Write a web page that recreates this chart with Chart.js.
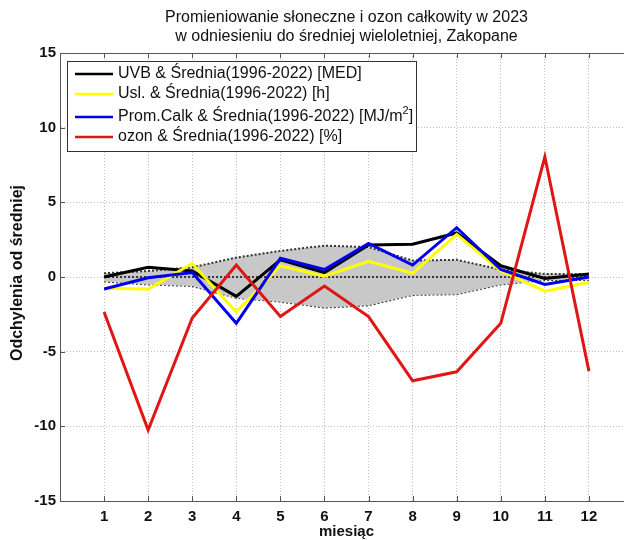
<!DOCTYPE html>
<html>
<head>
<meta charset="utf-8">
<script src="https://cdn.jsdelivr.net/npm/chart.js@4.4.1/dist/chart.umd.min.js"></script>
<style>
  html, body { margin: 0; padding: 0; background: #fff; overflow: hidden; }
  #wrap { width: 650px; height: 540px; }
</style>
</head>
<body>
<div id="wrap"><canvas id="chart" width="650" height="540"></canvas></div>
<script>
// values
var months = [1, 2, 3, 4, 5, 6, 7, 8, 9, 10, 11, 12];
var uvb = [0.0, 0.65, 0.4, -1.3, 1.15, 0.3, 2.15, 2.2, 2.95, 0.75, -0.1, 0.2];
var usl = [-0.75, -0.8, 0.9, -2.35, 0.75, 0.05, 1.05, 0.25, 2.85, 0.4, -0.95, -0.35];
var prom = [-0.8, -0.05, 0.3, -3.1, 1.25, 0.5, 2.25, 0.8, 3.3, 0.5, -0.5, 0.0];
var ozon = [-2.35, -10.25, -2.75, 0.8, -2.65, -0.6, -2.65, -6.95, -6.35, -3.1, 8.05, -6.3];
var bandUpper = [0.25, 0.4, 0.65, 1.3, 1.75, 2.1, 2.0, 1.1, 1.15, 0.5, 0.2, 0.2];
var bandLower = [-0.3, -0.5, -0.6, -1.4, -1.65, -2.05, -1.9, -1.2, -1.15, -0.5, -0.2, -0.2];
var meanLine = [0, 0, 0, 0, 0, 0, 0, 0, 0, 0, 0, 0];

var titleLines = ['Promieniowanie słoneczne i ozon całkowity w 2023',
                  'w odniesieniu do średniej wieloletniej, Zakopane'];
var xTitle = 'miesiąc';
var yTitle = 'Odchylenia od średniej';

function pts(values) {
    return months.map(function(m, i) { return { x: m, y: values[i] }; });
}

var FONT = '"Liberation Sans", Arial, sans-serif';

function lineSet(label, values, color, order) {
    return {
        label: label, data: pts(values), borderColor: color, borderWidth: 3,
        pointRadius: 0, fill: false, tension: 0, order: order, inLegend: true
    };
}

var datasets = [
    lineSet('UVB & Średnia(1996-2022) [MED]', uvb, '#000000', 4),
    lineSet('Usl. & Średnia(1996-2022) [h]', usl, '#ffff00', 3),
    lineSet('Prom.Calk & Średnia(1996-2022) [MJ/m²]', prom, '#0000ee', 2),
    lineSet('ozon & Średnia(1996-2022) [%]', ozon, '#e01515', 1),
    {
        label: 'band upper', data: pts(bandUpper), borderColor: '#333', borderWidth: 2,
        borderDash: [2, 2], backgroundColor: '#c8c8c8', fill: '+1', pointRadius: 0, order: 6
    },
    {
        label: 'band lower', data: pts(bandLower), borderColor: '#333', borderWidth: 2,
        borderDash: [2, 2], fill: false, pointRadius: 0, order: 6
    },
    {
        label: 'mean', data: pts(meanLine), borderColor: '#333', borderWidth: 2,
        borderDash: [2, 2], fill: false, pointRadius: 0, order: 5
    }
];

// title, axis labels, top border, inner tick marks and the boxed legend
var decor = {
    id: 'decor',
    afterDraw: function(chart) {
        var ctx = chart.ctx, a = chart.chartArea;
        var xs = chart.scales.x, ys = chart.scales.y;
        ctx.save();
        ctx.fillStyle = '#111';
        ctx.textAlign = 'center';
        ctx.textBaseline = 'middle';
        ctx.font = '16px ' + FONT;
        ctx.fillText(titleLines[0], (a.left + a.right) / 2, 18);
        ctx.fillText(titleLines[1], (a.left + a.right) / 2, 37);
        ctx.font = 'bold 15px ' + FONT;
        ctx.fillText(xTitle, (a.left + a.right) / 2, 532);
        ctx.save();
        ctx.font = 'bold 16px ' + FONT;
        ctx.translate(18, 273);
        ctx.rotate(-Math.PI / 2);
        ctx.fillText(yTitle, 0, 0);
        ctx.restore();

        ctx.strokeStyle = '#555';
        ctx.lineWidth = 1;
        ctx.beginPath();
        ctx.moveTo(a.left, a.top + 0.5);
        ctx.lineTo(a.right, a.top + 0.5);
        months.forEach(function(m) {
            var px = Math.round(xs.getPixelForValue(m)) + 0.5;
            ctx.moveTo(px, a.top); ctx.lineTo(px, a.top + 5);
            ctx.moveTo(px, a.bottom); ctx.lineTo(px, a.bottom - 5);
        });
        [-10, -5, 0, 5, 10].forEach(function(v) {
            var py = Math.round(ys.getPixelForValue(v)) + 0.5;
            ctx.moveTo(a.left, py); ctx.lineTo(a.left + 5, py);
        });
        ctx.stroke();

        // legend box
        var bx = 67, by = 61, bw = 349, bh = 90;
        var rows = [74, 94, 117, 137];
        ctx.fillStyle = '#fff';
        ctx.fillRect(bx, by, bw, bh);
        ctx.strokeStyle = '#333';
        ctx.strokeRect(bx + 0.5, by + 0.5, bw, bh);
        ctx.textAlign = 'left';
        var items = chart.data.datasets.filter(function(d) { return d.inLegend; });
        items.forEach(function(d, i) {
            ctx.strokeStyle = d.borderColor;
            ctx.lineWidth = 2.5;
            ctx.beginPath();
            ctx.moveTo(75, rows[i]); ctx.lineTo(113, rows[i]);
            ctx.stroke();
            ctx.fillStyle = '#111';
            ctx.font = '16px ' + FONT;
            var parts = d.label.split('²');
            ctx.fillText(parts[0], 118, rows[i]);
            if (parts.length > 1) {
                var w = ctx.measureText(parts[0]).width;
                ctx.font = '11px ' + FONT;
                ctx.fillText('2', 118 + w, rows[i] - 6);
                var w2 = ctx.measureText('2').width;
                ctx.font = '16px ' + FONT;
                ctx.fillText(parts[1], 118 + w + w2, rows[i]);
            }
        });
        ctx.restore();
    }
};

new Chart(document.getElementById('chart'), {
    type: 'line',
    data: { datasets: datasets },
    options: {
        responsive: false,
        animation: false,
        layout: { padding: { top: 53, right: 17, left: 0, bottom: 0 } },
        plugins: { legend: { display: false }, tooltip: { enabled: false } },
        scales: {
            x: {
                type: 'linear', min: 0, max: 13,
                afterFit: function(s) { s.height = 39; },
                grid: { color: '#bdbdbd', drawTicks: false },
                border: { color: '#555', dash: [1, 2] },
                ticks: {
                    stepSize: 1, padding: 7, color: '#111',
                    font: { family: FONT, size: 15, weight: 'bold' },
                    callback: function(v) { return (v >= 1 && v <= 12) ? v : ''; }
                }
            },
            y: {
                min: -15, max: 15,
                afterFit: function(s) { s.width = 60; },
                grid: { color: '#bdbdbd', drawTicks: false },
                border: { color: '#555', dash: [1, 2] },
                ticks: {
                    stepSize: 5, padding: 4, color: '#111',
                    font: { family: FONT, size: 15, weight: 'bold' }
                }
            }
        }
    },
    plugins: [decor]
});
</script>
</body>
</html>
